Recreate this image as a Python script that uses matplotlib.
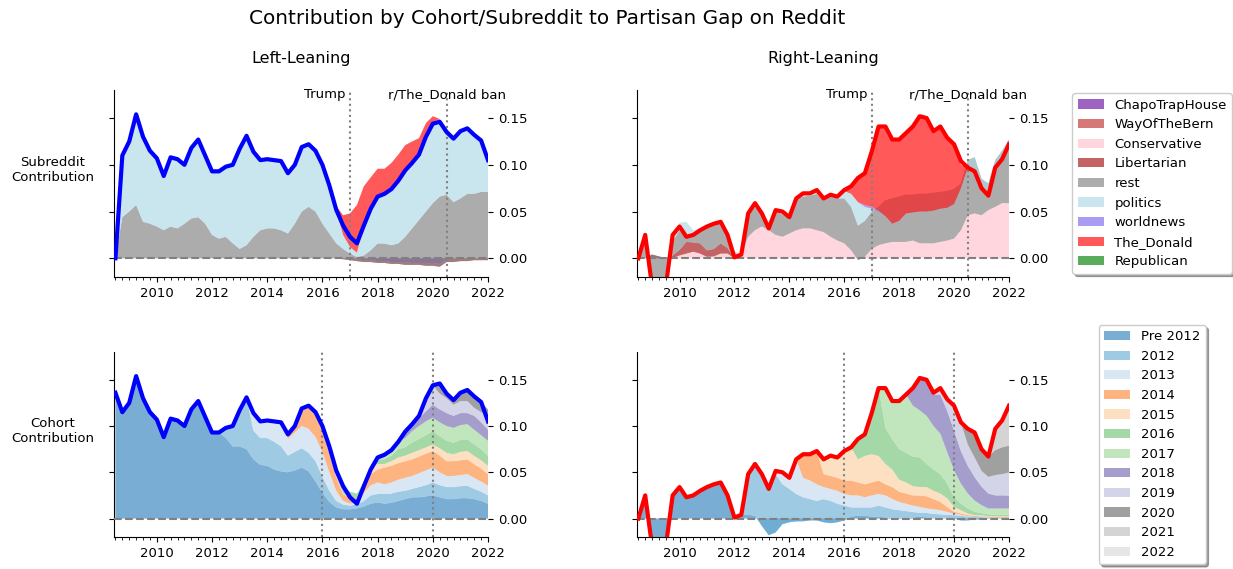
import numpy as np
import matplotlib
matplotlib.use("Agg")
import matplotlib.pyplot as plt
from matplotlib.ticker import MultipleLocator, FormatStrFormatter

# ── Time axis: quarterly samples, mid 2008 -> 2022 ────────────────
t = np.arange(2008.5, 2022.01, 0.25)
N = len(t)


def pad(vals, start=0):
    # series that are zero outside the listed stretch
    out = np.zeros(N)
    out[start:start + len(vals)] = vals
    return out


# ── Totals (partisan gap) ─────────────────────────────────────────
total_left = [0.000, 0.110, 0.125, 0.154, 0.130, 0.115, 0.107, 0.088, 0.108, 0.106,
              0.100, 0.118, 0.127, 0.110, 0.093, 0.093, 0.098, 0.100, 0.117, 0.131,
              0.114, 0.105, 0.106, 0.105, 0.104, 0.091, 0.100, 0.119, 0.122, 0.115,
              0.100, 0.078, 0.052, 0.035, 0.023, 0.016, 0.035, 0.053, 0.066, 0.069,
              0.074, 0.083, 0.094, 0.102, 0.111, 0.130, 0.144, 0.146, 0.135, 0.128,
              0.136, 0.139, 0.132, 0.126, 0.105]
total_left_cohort = [0.136, 0.115] + total_left[2:]

total_right = [0.000, 0.025, -0.030, -0.040, -0.030, 0.025, 0.034, 0.023, 0.025, 0.030,
               0.034, 0.037, 0.039, 0.025, 0.001, 0.004, 0.048, 0.059, 0.048, 0.032,
               0.0515, 0.050, 0.044, 0.064, 0.0695, 0.0695, 0.073, 0.064, 0.068, 0.066,
               0.073, 0.077, 0.086, 0.091, 0.114, 0.141, 0.141, 0.127, 0.127, 0.134,
               0.141, 0.152, 0.150, 0.136, 0.141, 0.129, 0.122, 0.104, 0.097, 0.093,
               0.075, 0.067, 0.097, 0.106, 0.122]

# ── Subreddit contributions, left-leaning ─────────────────────────
chapo_l = pad([-0.001, -0.001, -0.002, -0.002, -0.003, -0.003, -0.004, -0.004, -0.004, -0.005,
               -0.005, -0.005, -0.005, -0.006, -0.001], 34)
wotb_l = pad([-0.001, -0.001, -0.002, -0.002, -0.002, -0.002, -0.002, -0.002, -0.002, -0.003,
              -0.002, -0.002, -0.003, -0.003, -0.003, -0.003, -0.004, -0.003, -0.003, -0.002,
              -0.002, -0.002], 33)
cons_l = pad([])
lib_l = pad([])
rest_l = [0.000, 0.044, 0.050, 0.057, 0.039, 0.037, 0.034, 0.030, 0.034, 0.032,
          0.037, 0.0426, 0.044, 0.037, 0.025, 0.021, 0.023, 0.016, 0.010, 0.014,
          0.023, 0.030, 0.032, 0.032, 0.030, 0.0265, 0.037, 0.050, 0.055, 0.050,
          0.037, 0.0265, 0.016, 0.011, 0.007, 0.0045, 0.007, 0.0126, 0.0208, 0.0208,
          0.020, 0.022, 0.030, 0.039, 0.048, 0.058, 0.067, 0.075, 0.072, 0.064,
          0.067, 0.072, 0.071, 0.073, 0.073]
politics_l = [0.000, 0.066, 0.075, 0.097, 0.091, 0.078, 0.073, 0.058, 0.074, 0.074,
              0.063, 0.075, 0.083, 0.073, 0.068, 0.072, 0.075, 0.084, 0.107, 0.117,
              0.091, 0.075, 0.074, 0.073, 0.074, 0.0645, 0.063, 0.069, 0.067, 0.065,
              0.063, 0.0515, 0.036, 0.015, 0.007, 0.0045, 0.032, 0.044, 0.050, 0.053,
              0.060, 0.067, 0.071, 0.070, 0.070, 0.080, 0.085, 0.080, 0.067, 0.068,
              0.072, 0.070, 0.063, 0.055, 0.034]
worldnews_l = pad([0.001, 0.002, 0.003, 0.004, 0.002], 45)
donald_l = pad([0.004, 0.021, 0.036, 0.051, 0.042, 0.034, 0.030, 0.027, 0.028, 0.028,
                0.027, 0.023, 0.0175, 0.0136, 0.006], 32)
repub_l = pad([])

# ── Subreddit contributions, right-leaning ────────────────────────
chapo_r = pad([])
wotb_r = pad([])
cons_r = pad([0.003, 0.005, 0.007, 0.005, 0.0015, 0.002, 0.005, 0.005, 0.000, 0.004,
              0.023, 0.030, 0.034, 0.030, 0.025, 0.023, 0.0265, 0.030, 0.032, 0.032,
              0.030, 0.028, 0.023, 0.019, 0.016, 0.0086, -0.002, 0.0015, 0.010, 0.014,
              0.016, 0.0175, 0.0175, 0.0175, 0.019, 0.016, 0.016, 0.016, 0.0175, 0.019,
              0.021, 0.030, 0.046, 0.048, 0.046, 0.0515, 0.055, 0.059, 0.059], 6)
lib_r = pad([0.004, 0.002, 0.000, 0.003, 0.006, 0.0125, 0.010, 0.011, 0.007, 0.008,
             0.011, 0.006], 2)
rest_r = [0.000, 0.020, -0.034, -0.042, -0.030, 0.015, 0.021, 0.0055, 0.0095, 0.012,
          0.0255, 0.026, 0.022, 0.012, 0.002, 0.001, 0.023, 0.025, 0.012, 0.002,
          0.025, 0.024, 0.0165, 0.032, 0.034, 0.035, 0.039, 0.034, 0.043, 0.045,
          0.048, 0.0464, 0.037, 0.0385, 0.040, 0.041, 0.046, 0.0465, 0.0485, 0.0505,
          0.049, 0.053, 0.053, 0.054, 0.0535, 0.053, 0.053, 0.050, 0.059, 0.060,
          0.039, 0.0285, 0.050, 0.056, 0.068]
politics_r = pad([0.004, 0.008, 0.016, 0.0035, 0.004, 0.002, 0.002, 0.002, 0.002, 0.005,
                  0.000, 0.004, 0.003, 0.004, 0.002, 0.004, 0.005, 0.003, 0.002, 0.002,
                  0.002, 0.003, 0.002, 0.002, 0.002, 0.008, 0.014, 0.025, 0.015, 0.003,
                  -0.005, -0.017, -0.027, -0.026, -0.020, -0.019, -0.019, -0.019, -0.019, -0.018,
                  -0.018, -0.016, -0.005, -0.008, -0.015, -0.010, -0.013, -0.008, -0.009, -0.005], 5)
worldnews_r = pad([0.002, 0.001, 0, 0, 0, 0, 0, 0, 0, 0, 0.002, 0.002, 0.001], 23)
donald_r = pad([0.008, 0.026, 0.034, 0.059, 0.090, 0.096, 0.090, 0.087, 0.086, 0.092,
                0.102, 0.100, 0.085, 0.088, 0.075, 0.064, 0.025], 31)
repub_r = pad([])

# ── Cohort contributions, left-leaning ────────────────────────────
pre2012_l = [0.136, 0.115, 0.125, 0.154, 0.130, 0.115, 0.107, 0.088, 0.108, 0.106,
             0.100, 0.118, 0.127, 0.110, 0.093, 0.093, 0.087, 0.078, 0.078, 0.075,
             0.064, 0.058, 0.057, 0.053, 0.051, 0.050, 0.052, 0.055, 0.051, 0.040,
             0.028, 0.018, 0.012, 0.010, 0.010, 0.011, 0.013, 0.016, 0.0175, 0.016,
             0.017, 0.019, 0.021, 0.023, 0.023, 0.024, 0.025, 0.023, 0.021, 0.021,
             0.022, 0.022, 0.021, 0.019, 0.016]
c2012_l = pad([0.011, 0.022, 0.039, 0.056, 0.031, 0.029, 0.030, 0.030, 0.027, 0.018,
               0.020, 0.021, 0.020, 0.022, 0.017, 0.012, 0.007, 0.005, 0.004, 0.004,
               0.006, 0.009, 0.009, 0.0105, 0.010, 0.010, 0.009, 0.009, 0.011, 0.012,
               0.014, 0.013, 0.013, 0.013, 0.013, 0.0135, 0.011, 0.010, 0.009], 16)
c2013_l = pad([0.019, 0.018, 0.019, 0.022, 0.026, 0.018,
               0.021, 0.024, 0.026, 0.026, 0.027, 0.020, 0.011, 0.004, 0.002, 0.003,
               0.009, 0.011, 0.0125, 0.0105, 0.012, 0.013, 0.014, 0.014, 0.015, 0.016,
               0.016, 0.014, 0.012, 0.012, 0.012, 0.0125, 0.012, 0.011, 0.0105], 20)
c2014_l = pad([0.005,
               0.007, 0.019, 0.025, 0.027, 0.027, 0.020, 0.015, 0.007, 0.007, 0.004,
               0.006, 0.012, 0.014, 0.018, 0.018, 0.018, 0.018, 0.018, 0.018, 0.018,
               0.018, 0.018, 0.016, 0.016, 0.016, 0.016, 0.0147, 0.014, 0.0125], 25)
c2015_l = pad([0.002, 0.002, 0.001, 0.000, 0.000,
               0.003, 0.006, 0.006, 0.004, 0.005, 0.006, 0.006, 0.007, 0.007, 0.007,
               0.007, 0.008, 0.009, 0.0075, 0.009, 0.009, 0.009, 0.009, 0.009], 31)
c2016_l = pad([0.007, 0.006, 0.005,
               0.002, 0.002, 0.005, 0.005, 0.006, 0.009, 0.009, 0.011, 0.012, 0.013,
               0.0145, 0.013, 0.013, 0.0125, 0.013, 0.0126, 0.0123, 0.012, 0.0107], 33)
c2017_l = pad([0.001, 0.003, 0.004, 0.006, 0.008, 0.010, 0.0125, 0.014, 0.015,
               0.0145, 0.015, 0.016, 0.016, 0.016, 0.0164, 0.016, 0.015, 0.0163], 37)
c2018_l = pad([0.007, 0.0075, 0.008, 0.011,
               0.014, 0.014, 0.014, 0.013, 0.013, 0.012, 0.015, 0.014, 0.012], 42)
c2019_l = pad([0.003, 0.014, 0.021, 0.017, 0.016, 0.012, 0.013, 0.013, 0.0086, 0.011, 0.015], 44)
c2020_l = pad([0.011, 0.005, 0.005, 0.009, 0.012, 0.0124, 0.011, 0.007], 47)
c2021_l = pad([])
c2022_l = pad([])

# ── Cohort contributions, right-leaning ───────────────────────────
pre2012_r = [0.000, 0.025, -0.030, -0.040, -0.030, 0.025, 0.034, 0.023, 0.025, 0.030,
             0.034, 0.037, 0.039, 0.025, 0.001, 0.004, 0.004, 0.003, -0.008, -0.018,
             -0.015, -0.006, -0.004, -0.003, -0.003, -0.002, -0.002, -0.004, -0.005, -0.004,
             -0.002, 0.002, 0.003, 0.003, 0.002, 0.002, 0.001, 0.001, 0.001, 0.001,
             0.001, 0.002, 0.001, 0.000, 0.000, 0.000, 0.000, -0.002, -0.002, -0.001,
             -0.001, 0.000, 0.000, 0.000, 0.000]
c2012_r = pad([0.044, 0.056, 0.056, 0.050, 0.063, 0.043, 0.036, 0.0295, 0.026, 0.023,
               0.021, 0.025, 0.024, 0.020, 0.016, 0.010, 0.009, 0.009, 0.010, 0.012,
               0.011, 0.009, 0.008, 0.007, 0.006, 0.004, 0.005, 0.005, 0.0045, 0.004,
               0.0036, 0.005, 0.004, 0.003, 0.0025, 0.001, 0.001, 0.001, 0.001], 16)
c2013_r = pad([0.0035, 0.013, 0.012, 0.0375, 0.021, 0.020,
               0.018, 0.013, 0.013, 0.014, 0.0125, 0.013, 0.013, 0.011, 0.013, 0.0125,
               0.013, 0.011, 0.009, 0.008, 0.007, 0.0066, 0.005, 0.005, 0.0045, 0.003,
               0.0018, 0.001, 0.0005, 0.000, 0.0005], 20)
c2014_r = pad([0.0255, 0.0285,
               0.036, 0.014, 0.014, 0.014, 0.0145, 0.016, 0.014, 0.014, 0.014, 0.0145,
               0.012, 0.013, 0.011, 0.011, 0.011, 0.0122, 0.013, 0.011, 0.009, 0.0054,
               0.0018, 0.0014, 0.0011, 0.001, 0.0005, 0.001, 0.001, 0.001, 0.001], 24)
c2015_r = pad([0.016, 0.022, 0.022,
               0.032, 0.036, 0.025, 0.0307, 0.0305, 0.0267, 0.022, 0.019, 0.013, 0.012,
               0.010, 0.0092, 0.010, 0.009, 0.009, 0.0094, 0.0054, 0.0036, 0.0018, 0.0006,
               0.001, 0.0005, 0.0005, 0.0005, 0.0005], 27)
c2016_r = pad([0.022, 0.0233, 0.0445, 0.0733, 0.039, 0.0326, 0.033, 0.032,
               0.032, 0.032, 0.025, 0.023, 0.021, 0.016, 0.0104, 0.007, 0.0054, 0.0036,
               0.0024, 0.002, 0.0015, 0.0015, 0.0015], 32)
c2017_r = pad([0.043, 0.0414, 0.052, 0.063,
               0.055, 0.051, 0.052, 0.047, 0.0437, 0.034, 0.029, 0.0218, 0.0162, 0.0122,
               0.0086, 0.0063, 0.0068, 0.0068, 0.0068], 36)
c2018_r = pad([0.019, 0.035, 0.039, 0.034, 0.042, 0.0445, 0.043, 0.035, 0.030, 0.0252,
               0.020, 0.0162, 0.0142, 0.0142, 0.014], 40)
c2019_r = pad([0.002, 0.007, 0.0125, 0.027, 0.031, 0.023, 0.0214,
               0.017, 0.018, 0.022, 0.023, 0.025], 43)
c2020_r = pad([0.017, 0.027, 0.024, 0.022, 0.027, 0.029, 0.029], 48)
c2021_r = pad([0.023, 0.029, 0.043], 52)
c2022_r = pad([])

# ── Labels / colours ──────────────────────────────────────────────
sub_names = ["ChapoTrapHouse", "WayOfTheBern", "Conservative", "Libertarian", "rest",
             "politics", "worldnews", "The_Donald", "Republican"]
sub_colors = ["#6a10a0", "#c03030", "pink", "#a51010", "gray",
              "lightblue", "mediumslateblue", "red", "green"]
coh_names = ["Pre 2012", "2012", "2013", "2014", "2015", "2016",
             "2017", "2018", "2019", "2020", "2021", "2022"]
coh_colors = ["#3182bd", "#6baed6", "#c6dbef", "#fd8d3c", "#fdd0a2", "#74c476",
              "#a1d99b", "#756bb1", "#bcbddc", "#6e6e6e", "#bdbdbd", "#d9d9d9"]

sub_left = [chapo_l, wotb_l, cons_l, lib_l, rest_l, politics_l, worldnews_l, donald_l, repub_l]
sub_right = [chapo_r, wotb_r, cons_r, lib_r, rest_r, politics_r, worldnews_r, donald_r, repub_r]
coh_left = [pre2012_l, c2012_l, c2013_l, c2014_l, c2015_l, c2016_l,
            c2017_l, c2018_l, c2019_l, c2020_l, c2021_l, c2022_l]
coh_right = [pre2012_r, c2012_r, c2013_r, c2014_r, c2015_r, c2016_r,
             c2017_r, c2018_r, c2019_r, c2020_r, c2021_r, c2022_r]

ALPHA = 0.65
FS = 9.5

# ── Figure ────────────────────────────────────────────────────────
fig = plt.figure(figsize=(12.33, 5.69), dpi=100)
ax_tl = fig.add_axes([0.0925, 0.5132, 0.3033, 0.3286])
ax_tr = fig.add_axes([0.5166, 0.5132, 0.3017, 0.3286])
ax_bl = fig.add_axes([0.0925, 0.0562, 0.3033, 0.3251])
ax_br = fig.add_axes([0.5166, 0.0562, 0.3017, 0.3251])


def style(ax):
    ax.set_xlim(2008.45, 2022.0)
    ax.set_ylim(-0.02, 0.18)
    ax.xaxis.set_major_locator(MultipleLocator(2))
    ax.xaxis.set_minor_locator(MultipleLocator(0.25))
    ax.xaxis.set_major_formatter(FormatStrFormatter("%d"))
    ax.set_yticks([0.0, 0.05, 0.10, 0.15])
    ax.yaxis.set_major_formatter(FormatStrFormatter("%.2f"))
    ax.tick_params(axis="y", left=True, right=True, labelleft=False, labelright=True,
                   labelsize=FS)
    ax.tick_params(axis="x", labelsize=FS)
    ax.spines["top"].set_visible(False)
    ax.spines["right"].set_visible(False)
    ax.axhline(0, color="gray", linestyle="--", linewidth=1.5, zorder=3)


# subreddit row
ax_tl.stackplot(t, *sub_left, colors=sub_colors, alpha=ALPHA, labels=sub_names)
ax_tl.plot(t, total_left, color="blue", linewidth=3, zorder=4)
ax_tr.stackplot(t, *sub_right, colors=sub_colors, alpha=ALPHA, labels=sub_names)
ax_tr.plot(t, total_right, color="red", linewidth=3, zorder=4)

# cohort row
ax_bl.stackplot(t, *coh_left, colors=coh_colors, alpha=ALPHA, labels=coh_names)
ax_bl.plot(t, total_left_cohort, color="blue", linewidth=3, zorder=4)
ax_br.stackplot(t, *coh_right, colors=coh_colors, alpha=ALPHA, labels=coh_names)
ax_br.plot(t, total_right, color="red", linewidth=3, zorder=4)

for ax in (ax_tl, ax_tr, ax_bl, ax_br):
    style(ax)

# event markers
for ax in (ax_tl, ax_tr):
    ax.axvline(2017.0, color="gray", linestyle=":", linewidth=1.5)
    ax.axvline(2020.5, color="gray", linestyle=":", linewidth=1.5)
    ax.text(2016.85, 0.1715, "Trump", ha="right", va="baseline", fontsize=FS)
    ax.text(2020.5, 0.1715, "r/The_Donald ban", ha="center", va="baseline", fontsize=FS)
for ax in (ax_bl, ax_br):
    ax.axvline(2016.0, color="gray", linestyle=":", linewidth=1.5)
    ax.axvline(2020.0, color="gray", linestyle=":", linewidth=1.5)

# row labels
ax_tl.set_ylabel("Subreddit\nContribution", rotation=0, fontsize=FS, ha="center", va="bottom")
ax_tl.yaxis.set_label_coords(-0.165, 0.5)
ax_bl.set_ylabel("Cohort\nContribution", rotation=0, fontsize=FS, ha="center", va="bottom")
ax_bl.yaxis.set_label_coords(-0.165, 0.5)

# legends
ax_tr.legend(loc="center", bbox_to_anchor=(1.385, 0.5), shadow=True, fontsize=9.5)
ax_br.legend(loc="center", bbox_to_anchor=(1.385, 0.5), shadow=True, fontsize=9.5)

# titles
fig.text(0.444, 0.968, "Contribution by Cohort/Subreddit to Partisan Gap on Reddit",
         ha="center", va="center", fontsize=14.4)
fig.text(0.2442, 0.898, "Left-Leaning", ha="center", va="center", fontsize=11.5)
fig.text(0.6675, 0.898, "Right-Leaning", ha="center", va="center", fontsize=11.5)

fig.savefig("out.png", dpi=100)
